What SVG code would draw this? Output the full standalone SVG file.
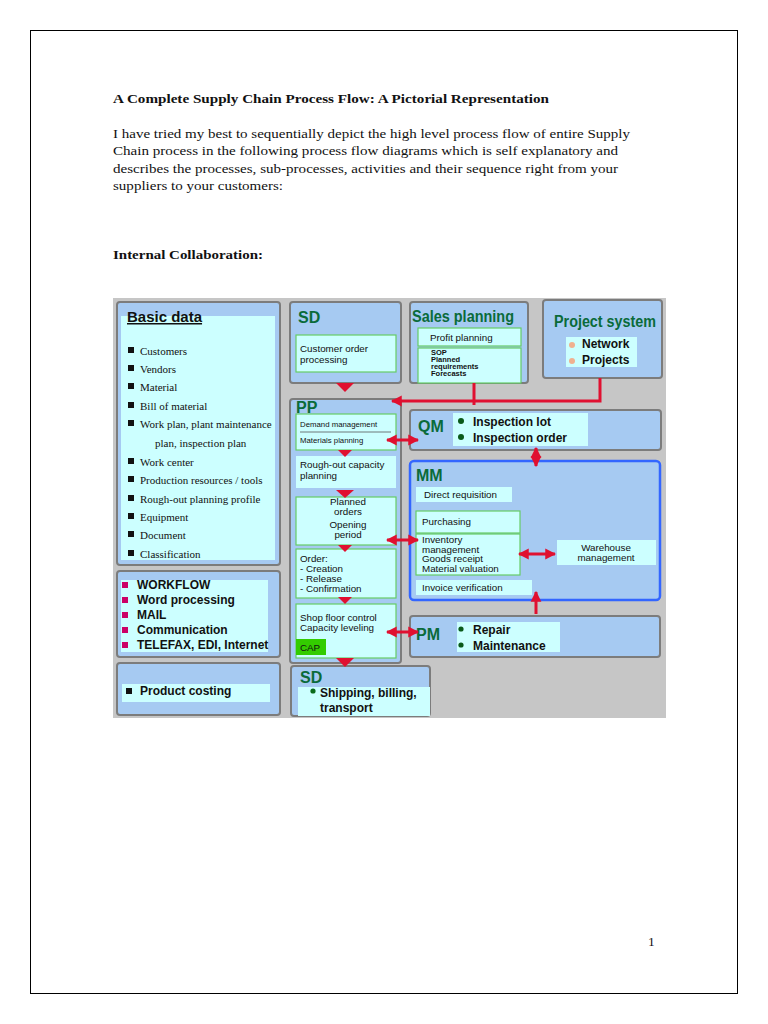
<svg xmlns="http://www.w3.org/2000/svg" width="768" height="1024" viewBox="0 0 768 1024">
<defs>
<style>
.page{fill:#ffffff;stroke:#000;stroke-width:1}
.doc{font-family:"Liberation Serif",serif;font-size:13.5px;fill:#111}
.docb{font-family:"Liberation Serif",serif;font-size:13.5px;font-weight:bold;fill:#111}
.box{fill:#a6caf2;stroke:#7c7c7c;stroke-width:2}
.cy{fill:#ccffff}
.cyg{fill:#ccffff;stroke:#66cc66;stroke-width:1.2}
.hd{font-family:"Liberation Sans",sans-serif;font-size:16px;font-weight:bold;fill:#0a6b3a}
.sm{font-family:"Liberation Sans",sans-serif;font-size:9.8px;fill:#111}
.xs{font-family:"Liberation Sans",sans-serif;font-size:7.5px;font-weight:bold;fill:#111}
.xn{font-family:"Liberation Sans",sans-serif;font-size:7.8px;fill:#111}
.bl{font-family:"Liberation Sans",sans-serif;font-size:12px;font-weight:bold;fill:#111}
.ser{font-family:"Liberation Serif",serif;font-size:11px;fill:#111}
.red{stroke:#e01030;stroke-width:3;fill:none}
.tri{fill:#e01030}
</style>
<marker id="ah" viewBox="0 0 10 10" refX="9" refY="5" markerWidth="3.6" markerHeight="4.4" orient="auto-start-reverse" markerUnits="strokeWidth">
<path d="M0,0 L10,5 L0,10 z" fill="#e01030"/>
</marker>
</defs>
<rect width="768" height="1024" fill="#ffffff"/>
<rect class="page" x="30.5" y="30.5" width="707" height="963"/>

<text class="docb" x="113" y="103" textLength="436" lengthAdjust="spacingAndGlyphs">A Complete Supply Chain Process Flow: A Pictorial Representation</text>
<text class="doc" x="113" y="138" textLength="517" lengthAdjust="spacingAndGlyphs">I have tried my best to sequentially depict the high level process flow of entire Supply</text>
<text class="doc" x="113" y="155" textLength="505" lengthAdjust="spacingAndGlyphs">Chain process in the following process flow diagrams which is self explanatory and</text>
<text class="doc" x="113" y="173" textLength="505" lengthAdjust="spacingAndGlyphs">describes the processes, sub-processes, activities and their sequence right from your</text>
<text class="doc" x="113" y="190" textLength="170" lengthAdjust="spacingAndGlyphs">suppliers to your customers:</text>
<text class="docb" x="113" y="259" textLength="150" lengthAdjust="spacingAndGlyphs">Internal Collaboration:</text>
<text class="doc" x="648" y="946">1</text>

<rect x="113" y="298" width="553" height="420" fill="#c6c6c6"/>

<g id="basic-data">
<rect class="box" x="117" y="302" width="163" height="263" rx="3"/>
<rect class="cy" x="121" y="316" width="154" height="244"/>
<text x="127" y="322" font-family="Liberation Sans,sans-serif" font-size="15" font-weight="bold" fill="#111" text-decoration="underline">Basic data</text>
<g fill="#111">
<rect x="128" y="347" width="6" height="6"/><rect x="128" y="365" width="6" height="6"/><rect x="128" y="383" width="6" height="6"/>
<rect x="128" y="402" width="6" height="6"/><rect x="128" y="420" width="6" height="6"/><rect x="128" y="458" width="6" height="6"/>
<rect x="128" y="476" width="6" height="6"/><rect x="128" y="495" width="6" height="6"/><rect x="128" y="513" width="6" height="6"/>
<rect x="128" y="531" width="6" height="6"/><rect x="128" y="550" width="6" height="6"/>
</g>
<text class="ser" x="140" y="355">Customers</text>
<text class="ser" x="140" y="373">Vendors</text>
<text class="ser" x="140" y="391">Material</text>
<text class="ser" x="140" y="410">Bill of material</text>
<text class="ser" x="140" y="428">Work plan, plant maintenance</text>
<text class="ser" x="155" y="447">plan, inspection plan</text>
<text class="ser" x="140" y="466">Work center</text>
<text class="ser" x="140" y="484">Production resources / tools</text>
<text class="ser" x="140" y="503">Rough-out planning profile</text>
<text class="ser" x="140" y="521">Equipment</text>
<text class="ser" x="140" y="539">Document</text>
<text class="ser" x="140" y="558">Classification</text>
</g>

<g id="workflow">
<rect class="box" x="117" y="571" width="163" height="86" rx="3"/>
<rect class="cy" x="121" y="580" width="147" height="72"/>
<g fill="#cc0066">
<rect x="122" y="582" width="6" height="6"/><rect x="122" y="597" width="6" height="6"/><rect x="122" y="612" width="6" height="6"/>
<rect x="122" y="627" width="6" height="6"/><rect x="122" y="642" width="6" height="6"/>
</g>
<text class="bl" x="137" y="589">WORKFLOW</text>
<text class="bl" x="137" y="604">Word processing</text>
<text class="bl" x="137" y="619">MAIL</text>
<text class="bl" x="137" y="634">Communication</text>
<text class="bl" x="137" y="649">TELEFAX, EDI, Internet</text>
</g>

<g id="product-costing">
<rect class="box" x="117" y="663" width="163" height="52" rx="3"/>
<rect class="cy" x="122" y="684" width="148" height="18"/>
<rect x="126" y="688" width="6" height="6" fill="#111"/>
<text class="bl" x="140" y="695">Product costing</text>
</g>

<g id="sd-top">
<rect class="box" x="290" y="302" width="111" height="81" rx="3"/>
<text class="hd" x="298" y="323">SD</text>
<rect class="cyg" x="296" y="335" width="100" height="37"/>
<text class="sm" x="300" y="352">Customer order</text>
<text class="sm" x="300" y="363">processing</text>
</g>

<g id="sales-planning">
<rect class="box" x="410" y="302" width="118" height="81" rx="3"/>
<text class="hd" x="412" y="322" textLength="102" lengthAdjust="spacingAndGlyphs">Sales planning</text>
<rect class="cyg" x="418" y="328" width="103" height="18"/>
<text class="sm" x="430" y="341">Profit planning</text>
<rect class="cyg" x="418" y="348" width="103" height="35"/>
<text class="xs" x="431" y="355">SOP</text>
<text class="xs" x="431" y="362">Planned</text>
<text class="xs" x="431" y="369">requirements</text>
<text class="xs" x="431" y="376">Forecasts</text>
</g>

<g id="project-system">
<rect class="box" x="543" y="300" width="119" height="78" rx="3"/>
<text class="hd" x="554" y="327" textLength="102" lengthAdjust="spacingAndGlyphs">Project system</text>
<rect class="cy" x="566" y="337" width="71" height="30"/>
<circle cx="572" cy="345" r="3" fill="#f0b090"/>
<circle cx="572" cy="361" r="3" fill="#f0b090"/>
<text class="bl" x="582" y="348">Network</text>
<text class="bl" x="582" y="364">Projects</text>
</g>

<g id="pp">
<rect class="box" x="290" y="399" width="111" height="264" rx="3"/>
<text class="hd" x="296" y="413">PP</text>
<rect class="cyg" x="296" y="414" width="100" height="36"/>
<text class="xn" x="300" y="427">Demand management</text>
<line x1="300" y1="432" x2="391" y2="432" stroke="#555" stroke-width="0.8"/>
<text class="xn" x="300" y="443">Materials planning</text>
<rect class="cy" x="296" y="456" width="100" height="32"/>
<text class="sm" x="300" y="468">Rough-out capacity</text>
<text class="sm" x="300" y="479">planning</text>
<rect class="cyg" x="296" y="497" width="100" height="48"/>
<text class="sm" x="348" y="505" text-anchor="middle">Planned</text>
<text class="sm" x="348" y="515" text-anchor="middle">orders</text>
<text class="sm" x="348" y="528" text-anchor="middle">Opening</text>
<text class="sm" x="348" y="538" text-anchor="middle">period</text>
<rect class="cyg" x="296" y="549" width="100" height="49"/>
<text class="sm" x="300" y="562">Order:</text>
<text class="sm" x="300" y="572">- Creation</text>
<text class="sm" x="300" y="582">- Release</text>
<text class="sm" x="300" y="592">- Confirmation</text>
<rect class="cyg" x="296" y="604" width="100" height="54"/>
<text class="sm" x="300" y="621">Shop floor control</text>
<text class="sm" x="300" y="631">Capacity leveling</text>
<rect x="296" y="639" width="30" height="16" fill="#33cc00"/>
<text class="sm" x="300" y="651">CAP</text>
</g>

<g id="sd-bottom">
<rect class="box" x="291" y="666" width="139" height="50" rx="3"/>
<text class="hd" x="300" y="683">SD</text>
<rect class="cy" x="298" y="687" width="132" height="29"/>
<circle cx="313" cy="691" r="2.6" fill="#0a6b1a"/>
<text class="bl" x="320" y="697">Shipping, billing,</text>
<text class="bl" x="320" y="712">transport</text>
</g>

<g id="qm">
<rect class="box" x="410" y="410" width="251" height="40" rx="3"/>
<text class="hd" x="418" y="432">QM</text>
<rect class="cy" x="453" y="413" width="135" height="33"/>
<circle cx="461" cy="421" r="3" fill="#0a5a1a"/>
<circle cx="461" cy="437" r="3" fill="#0a5a1a"/>
<text class="bl" x="473" y="426">Inspection lot</text>
<text class="bl" x="473" y="442">Inspection order</text>
</g>

<g id="mm">
<rect x="410" y="461" width="250" height="139" rx="4" fill="#a6caf2" stroke="#3366ff" stroke-width="2.5"/>
<text class="hd" x="416" y="481">MM</text>
<rect class="cy" x="416" y="487" width="96" height="15"/>
<text class="sm" x="424" y="498">Direct requisition</text>
<rect class="cyg" x="416" y="511" width="104" height="22"/>
<text class="sm" x="422" y="525">Purchasing</text>
<rect class="cyg" x="416" y="534" width="104" height="41"/>
<text class="sm" x="422" y="543">Inventory</text>
<text class="sm" x="422" y="553">management</text>
<text class="sm" x="422" y="562">Goods receipt</text>
<text class="sm" x="422" y="572">Material valuation</text>
<rect class="cy" x="557" y="540" width="99" height="25"/>
<text class="sm" x="606" y="551" text-anchor="middle">Warehouse</text>
<text class="sm" x="606" y="561" text-anchor="middle">management</text>
<rect class="cy" x="416" y="580" width="116" height="15"/>
<text class="sm" x="422" y="591">Invoice verification</text>
</g>

<g id="pm">
<rect class="box" x="410" y="616" width="250" height="41" rx="3"/>
<text class="hd" x="416" y="640">PM</text>
<rect class="cy" x="457" y="622" width="103" height="30"/>
<circle cx="461" cy="629" r="2.6" fill="#0a5a1a"/>
<circle cx="461" cy="645" r="2.6" fill="#0a5a1a"/>
<text class="bl" x="473" y="634">Repair</text>
<text class="bl" x="473" y="650">Maintenance</text>
</g>

<g id="connectors">
<polygon class="tri" points="336,383 354,383 345,392"/>
<polygon class="tri" points="338,450 352,450 345,457"/>
<polygon class="tri" points="336,490 354,490 345,498"/>
<polygon class="tri" points="338,545 352,545 345,552"/>
<polygon class="tri" points="338,597 352,597 345,604"/>
<polygon class="tri" points="336,658 354,658 345,667"/>
<path class="red" d="M600,378 V401 H392" marker-end="url(#ah)"/>
<path class="red" d="M474,383 V405"/>
<path class="red" d="M387,440 H418" marker-start="url(#ah)" marker-end="url(#ah)"/>
<path class="red" d="M536,448 V466" marker-start="url(#ah)" marker-end="url(#ah)"/>
<path class="red" d="M387,540 H418" marker-start="url(#ah)" marker-end="url(#ah)"/>
<path class="red" d="M519,554 H555" marker-start="url(#ah)" marker-end="url(#ah)"/>
<path class="red" d="M536,614 V592" marker-end="url(#ah)"/>
<path class="red" d="M387,632 H418" marker-start="url(#ah)" marker-end="url(#ah)"/>
</g>
</svg>
